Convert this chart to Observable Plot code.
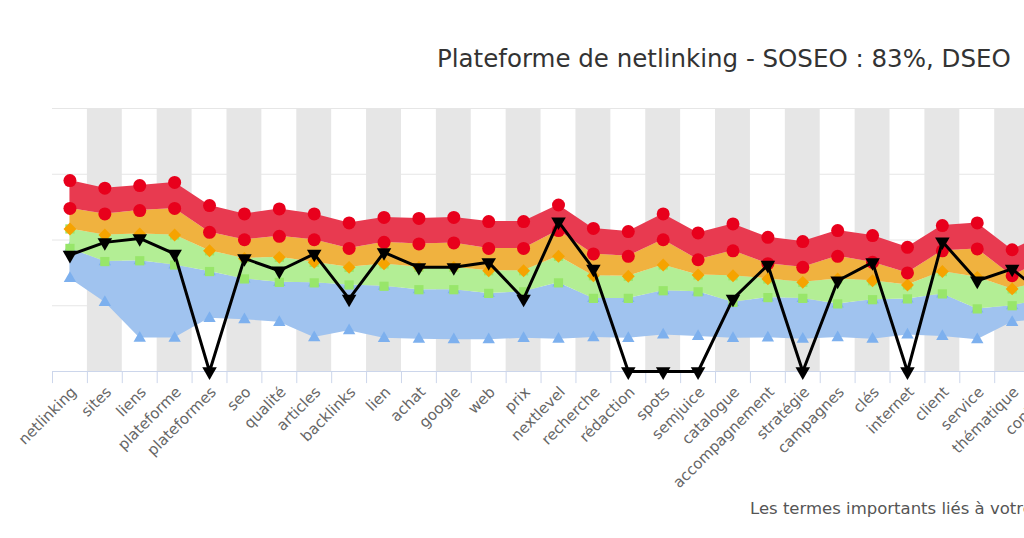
<!DOCTYPE html>
<html>
<head>
<meta charset="utf-8">
<script src="https://cdn.jsdelivr.net/npm/d3@7"></script>
<script src="https://cdn.jsdelivr.net/npm/@observablehq/plot@0.6"></script>
<style>
html, body { margin: 0; padding: 0; background: #fff; overflow: hidden; width: 1024px; height: 538px; }
#wrap { position: relative; width: 1200px; }
#title { position: relative; height: 90px; }
#title span { position: absolute; left: 437px; top: 44px; font-family: "DejaVu Sans", sans-serif; font-size: 24.5px; color: #333; white-space: nowrap; }
#chart svg { display: block; max-width: none; overflow: visible; }
#caption { position: relative; height: 40px; }
#caption span { position: absolute; left: 750px; top: 8px; font-family: "DejaVu Sans", sans-serif; font-size: 16.5px; color: #555; white-space: nowrap; }
</style>
</head>
<body>
<div id="wrap">
  <div id="title"><span>Plateforme de netlinking - SOSEO : 83%, DSEO</span></div>
  <div id="chart"></div>
  <div id="caption"><span>Les termes importants liés à votre</span></div>
</div>
<script>
const categories = ["netlinking","sites","liens","plateforme","plateformes","seo","qualité","articles","backlinks","lien","achat","google","web","prix","nextlevel","recherche","rédaction","spots","semjuice","catalogue","accompagnement","stratégie","campagnes","clés","internet","client","service","thématique","contenu"];
const minValues = [35.4,26.3,12.7,12.7,20.2,19.7,18.7,12.9,15.5,12.6,12.3,12.1,12.1,12.6,12.3,12.9,12.6,13.9,13.3,12.6,12.8,12.3,12.9,12.3,13.9,13.3,12.1,18.7,20.1];
const q1Values = [46.8,41.8,42.1,40.5,38.0,35.2,33.9,33.7,32.9,32.4,31.1,31.1,29.7,30.3,33.7,27.8,27.8,30.7,30.3,26.3,28.1,27.8,25.7,27.3,27.6,29.5,23.8,25.0,27.7];
const medianValues = [54.2,51.9,52.3,51.9,45.9,43.0,43.4,41.5,39.6,40.9,39.6,39.6,38.3,38.3,43.8,36.4,36.2,40.5,36.7,36.4,35.2,33.9,35.2,34.5,32.9,38.0,35.8,31.4,34.5];
const q3Values = [62.0,59.9,61.2,62.0,52.9,50.1,51.4,50.1,46.8,49.1,48.5,48.9,46.8,46.8,53.6,44.7,43.8,50.1,42.5,45.9,41.0,39.6,43.8,41.5,37.5,45.9,46.6,36.4,42.9];
const maxValues = [72.6,69.7,70.7,71.9,63.1,59.9,61.8,59.9,56.5,58.6,58.2,58.6,57.0,57.0,63.3,54.4,53.2,59.9,52.7,56.1,51.0,49.4,53.6,51.7,47.2,55.5,56.5,46.3,52.4];
const siteScores = [44.3,49.1,50.6,44.7,0,43.0,38.3,44.7,27.6,45.3,39.6,39.6,41.5,27.6,57.0,39.0,0,0,0,27.6,40.5,0,34.5,41.5,0,49.4,34.5,39.0,28.1];
const gridValues = [25, 50, 75, 100];

const rows = categories.map((c, i) => ({
  i, cat: c,
  L0: minValues[i], L1: q1Values[i], L2: medianValues[i], L3: q3Values[i], L4: maxValues[i], s: siteScores[i]
}));
const bands = rows.filter(d => d.i % 2 === 1);
const boundaries = d3.range(categories.length + 1).map(k => k - 0.5);

const blueFill = "#a0c3ef", blueMark = "#7db0ee";
const greenFill = "#b3ee95", greenMark = "#98e66a";
const orangeFill = "#f0b23f", orangeMark = "#f6a300";
const redFill = "#e83a50", redMark = "#e8001c";

const chart = Plot.plot({
  width: 1064,
  height: 401,
  marginLeft: 52,
  marginRight: 0,
  marginTop: 18,
  marginBottom: 120,
  style: { fontFamily: "DejaVu Sans, sans-serif", maxWidth: "none", overflow: "visible", background: "#fff" },
  x: { type: "linear", domain: [-0.5, categories.length - 0.5], axis: null },
  y: { domain: [0, 100], axis: null },
  marks: [
    Plot.rect(bands, { x1: d => d.i - 0.5, x2: d => d.i + 0.5, y1: 0, y2: 100, fill: "#e6e6e6" }),
    Plot.ruleY(gridValues, { stroke: "#e6e6e6", strokeWidth: 1 }),
    Plot.areaY(rows, { x: "i", y1: "L0", y2: "L1", fill: blueFill }),
    Plot.dot(rows, { x: "i", y: "L0", symbol: "triangle", r: 4.6, fill: blueMark }),
    Plot.dot(rows, { x: "i", y: "L1", symbol: "triangle", r: 4.6, fill: blueMark }),
    Plot.areaY(rows, { x: "i", y1: "L1", y2: "L2", fill: greenFill }),
    Plot.dot(rows, { x: "i", y: "L1", symbol: "square", r: 5.2, fill: greenMark }),
    Plot.dot(rows, { x: "i", y: "L2", symbol: "square", r: 5.2, fill: greenMark }),
    Plot.areaY(rows, { x: "i", y1: "L2", y2: "L3", fill: orangeFill }),
    Plot.dot(rows, { x: "i", y: "L2", symbol: "diamond2", r: 5.8, fill: orangeMark }),
    Plot.dot(rows, { x: "i", y: "L3", symbol: "diamond2", r: 5.8, fill: orangeMark }),
    Plot.areaY(rows, { x: "i", y1: "L3", y2: "L4", fill: redFill }),
    Plot.dot(rows, { x: "i", y: "L3", r: 6.5, fill: redMark }),
    Plot.dot(rows, { x: "i", y: "L4", r: 6.5, fill: redMark }),
    Plot.ruleY([0], { stroke: "#ccd6eb", strokeWidth: 1 }),
    Plot.ruleX(boundaries, { y1: 0, y2: -4.6, stroke: "#ccd6eb", strokeWidth: 1 }),
    Plot.line(rows, { x: "i", y: "s", stroke: "#000", strokeWidth: 3 }),
    Plot.dot(rows, { x: "i", y: "s", symbol: "triangle", rotate: 180, r: 5.4, fill: "#000" }),
    Plot.text(rows, { x: "i", y: 0, text: "cat", rotate: -45, textAnchor: "end", dx: 4, dy: 18, fontSize: 15, fill: "#666" })
  ]
});
document.getElementById("chart").appendChild(chart);
</script>
</body>
</html>
